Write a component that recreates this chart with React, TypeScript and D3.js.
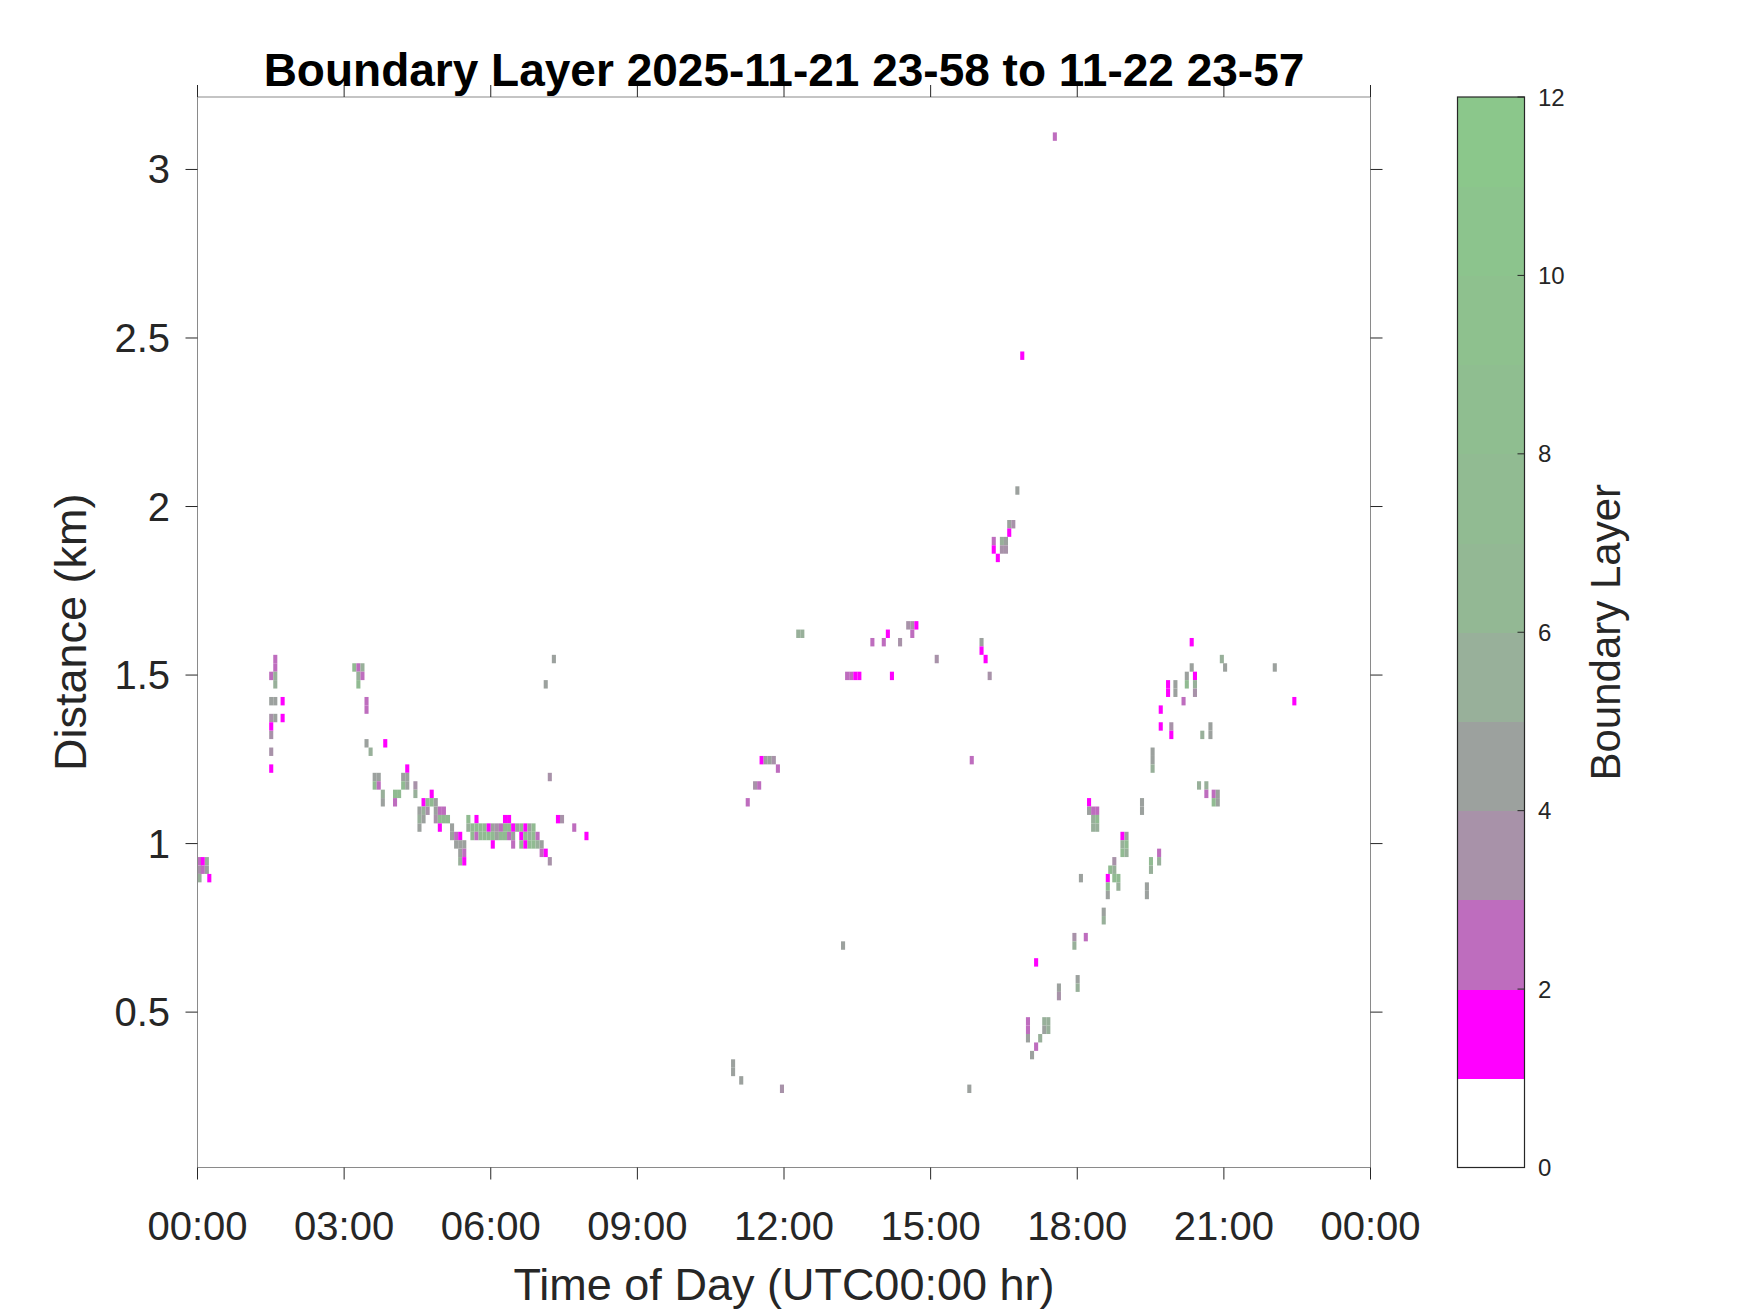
import React from 'react';
import * as d3 from 'd3';

const WIDTH = 1750;
const HEIGHT = 1313;
const plot = {left: 197.5, right: 1370.5, top: 97, bottom: 1167.5};
const cbar = {left: 1457.5, right: 1524.5};

const TITLE = 'Boundary Layer 2025-11-21 23-58 to 11-22 23-57';
const X_LABEL = 'Time of Day (UTC00:00 hr)';
const Y_LABEL = 'Distance (km)';
const CBAR_LABEL = 'Boundary Layer';

// axes
const timeTicks = [0, 3, 6, 9, 12, 15, 18, 21, 24];
const timeTickLabels = ['00:00', '03:00', '06:00', '09:00', '12:00', '15:00', '18:00', '21:00', '00:00'];
const distTicks = [0.5, 1, 1.5, 2, 2.5, 3];
const distExtent = [0.039, 3.215];
const levelTicks = [0, 2, 4, 6, 8, 10, 12];
const levelColors = [
    '#ffffff', '#ff00ff', '#be6dbe', '#a892a9', '#9ca19e', '#98b09a',
    '#93b894', '#91bb92', '#8fbe90', '#8ec18e', '#8cc48d', '#8bc78b'
];

// profiles every 5 min, range gates of 25 m
const STEP_MIN = 5;
const GATE_KM = 0.025;
const GATE0_KM = 0.060;

// [minute of day, gate, value]
const nightCells = [
    [0, 35, 2], [0, 34, 3], [0, 33, 5], [4, 35, 1], [4, 34, 2], [9, 35, 5], [9, 34, 4], [12, 33, 1],
    [93, 59, 2], [93, 58, 2], [88, 57, 2], [93, 57, 5], [93, 56, 5], [88, 54, 4], [93, 54, 4], [102, 54, 1],
    [88, 52, 3], [93, 52, 4], [102, 52, 1], [88, 51, 1], [88, 50, 3], [88, 48, 3], [88, 46, 1]
];

const morningCells = [
    [190, 58, 7], [195, 58, 2], [200, 58, 5], [195, 57, 5], [200, 57, 2], [195, 56, 7],
    [205, 54, 2], [205, 53, 2], [205, 49, 4], [210, 48, 5], [228, 49, 1], [255, 46, 1],
    [215, 45, 4], [220, 45, 4], [250, 45, 4], [255, 45, 4],
    [215, 44, 7], [220, 44, 2], [250, 44, 7], [255, 44, 4], [265, 44, 3],
    [225, 43, 5], [240, 43, 7], [245, 43, 7], [265, 43, 5], [285, 43, 1],
    [225, 42, 4], [240, 42, 2], [275, 42, 1], [280, 42, 7], [285, 42, 7], [290, 42, 4],
    [270, 41, 4], [275, 41, 5], [280, 41, 3], [290, 41, 4], [295, 41, 2], [300, 41, 2],
    [270, 40, 5], [275, 40, 4], [290, 40, 3], [295, 40, 7], [300, 40, 7], [305, 40, 7],
    [330, 40, 7], [340, 40, 1], [375, 40, 1], [380, 40, 1], [440, 40, 1], [445, 40, 3],
    [270, 39, 4], [295, 39, 1], [310, 39, 4], [330, 39, 5], [335, 39, 7], [340, 39, 7], [345, 39, 7],
    [350, 39, 7], [355, 39, 1], [360, 39, 4], [365, 39, 3], [370, 39, 2], [375, 39, 7], [380, 39, 7],
    [385, 39, 1], [390, 39, 4], [395, 39, 7], [400, 39, 1], [405, 39, 4], [410, 39, 7], [460, 39, 2],
    [310, 38, 4], [315, 38, 2], [320, 38, 1], [335, 38, 7], [340, 38, 2], [345, 38, 7], [350, 38, 7],
    [355, 38, 7], [360, 38, 7], [365, 38, 4], [370, 38, 7], [375, 38, 7], [380, 38, 2], [385, 38, 4],
    [395, 38, 1], [400, 38, 7], [405, 38, 5], [410, 38, 7], [415, 38, 2], [475, 38, 1],
    [315, 37, 4], [320, 37, 4], [325, 37, 4], [360, 37, 1], [385, 37, 2], [395, 37, 7], [400, 37, 1],
    [405, 37, 7], [410, 37, 7], [415, 37, 5], [420, 37, 4],
    [320, 36, 4], [325, 36, 2], [420, 36, 2], [425, 36, 1],
    [320, 35, 5], [325, 35, 1], [430, 35, 3],
    [425, 56, 4], [435, 59, 4], [430, 45, 3]
];

const middayCells = [
    [655, 11, 4], [655, 10, 4], [665, 9, 4], [715, 8, 3], [790, 25, 4],
    [673, 42, 2], [682, 44, 3], [687, 44, 2], [690, 47, 1], [695, 47, 4], [700, 47, 4], [705, 47, 3], [710, 46, 2],
    [735, 62, 5], [740, 62, 5],
    [795, 57, 2], [800, 57, 2], [805, 57, 1], [810, 57, 1], [850, 57, 1],
    [826, 61, 2], [840, 61, 2], [860, 61, 3], [845, 62, 1], [870, 63, 3], [875, 63, 3], [880, 63, 1], [875, 62, 2],
    [905, 59, 3], [945, 8, 4], [948, 47, 2],
    [960, 61, 4], [960, 60, 1], [965, 59, 1], [970, 57, 3]
];

const afternoonCells = [
    [1004, 79, 4], [994, 75, 4], [999, 75, 3], [994, 74, 1], [975, 73, 2], [985, 73, 5], [990, 73, 4],
    [985, 72, 3], [990, 72, 3], [975, 72, 1], [980, 71, 1], [1010, 95, 1], [1050, 121, 2]
];

const eveningCells = [
    [1092, 42, 1], [1092, 41, 4], [1097, 41, 2], [1102, 41, 2], [1097, 40, 5], [1102, 40, 7], [1097, 39, 5], [1102, 39, 5],
    [1133, 38, 1], [1138, 38, 4], [1133, 37, 5], [1138, 37, 7], [1133, 36, 7], [1138, 36, 5],
    [1123, 35, 3], [1118, 34, 7], [1123, 34, 5], [1123, 33, 7], [1128, 33, 7], [1128, 32, 5],
    [1115, 33, 1], [1115, 32, 7], [1115, 31, 4], [1110, 29, 4], [1110, 28, 5], [1082, 33, 4],
    [1074, 26, 3], [1074, 25, 5], [1088, 26, 2], [1027, 23, 1], [1078, 21, 4], [1078, 20, 5],
    [1055, 20, 4], [1055, 19, 3],
    [1017, 16, 2], [1017, 15, 2], [1017, 14, 4], [1037, 16, 5], [1042, 16, 5], [1037, 15, 4], [1042, 15, 5],
    [1032, 14, 5], [1027, 13, 2], [1022, 12, 4],
    [1218, 61, 1], [1255, 59, 5], [1259, 58, 4], [1320, 58, 4], [1218, 58, 4], [1212, 57, 4], [1212, 56, 7],
    [1222, 57, 1], [1222, 56, 5], [1222, 55, 3], [1189, 56, 1], [1189, 55, 1], [1198, 56, 4], [1198, 55, 4],
    [1208, 54, 2], [1180, 53, 1], [1180, 51, 1], [1193, 51, 3], [1193, 50, 1], [1231, 50, 5], [1241, 51, 4],
    [1241, 50, 4], [1170, 48, 4], [1170, 47, 4], [1170, 46, 5], [1344, 54, 1], [1227, 44, 5], [1236, 44, 5],
    [1236, 43, 2], [1245, 43, 2], [1250, 43, 4], [1250, 42, 4], [1245, 42, 7], [1157, 42, 4], [1157, 41, 4],
    [1178, 36, 2], [1178, 35, 5], [1168, 35, 7], [1168, 34, 5], [1163, 32, 4], [1163, 31, 4]
];

const FONT = '"Liberation Sans", Arial, Helvetica, sans-serif';
const INK = '#262626';

const App = () => {
    const x = d3.scaleLinear().domain([0, 24]).range([plot.left, plot.right]);
    const y = d3.scaleLinear().domain(distExtent).range([plot.bottom, plot.top]);
    const c = d3.scaleLinear().domain([0, 12]).range([plot.bottom, plot.top]);

    const cells = [...nightCells, ...morningCells, ...middayCells, ...afternoonCells, ...eveningCells];
    const tick = 12;

    return (
        <svg width={WIDTH} height={HEIGHT} style={{position: 'absolute', left: 0, top: 0, background: '#fff'}}
             fontFamily={FONT}>
            <rect x={0} y={0} width={WIDTH} height={HEIGHT} fill="#fff"/>

            {/* heatmap cells */}
            <g>
                {cells.map(([m, g, v], i) => {
                    const x0 = x(m / 60);
                    const x1 = Math.min(x((m + STEP_MIN) / 60), plot.right);
                    const yTop = y(GATE0_KM + (g + 1) * GATE_KM);
                    const yBot = y(GATE0_KM + g * GATE_KM);
                    return <rect key={i} x={x0} y={yTop} width={x1 - x0} height={yBot - yTop}
                                 fill={levelColors[Math.min(11, Math.floor(v))]}/>;
                })}
            </g>

            {/* axes box */}
            <rect x={plot.left} y={plot.top} width={plot.right - plot.left} height={plot.bottom - plot.top}
                  fill="none" stroke="#8a8a8a" strokeWidth={1}/>

            {/* x ticks, top and bottom, pointing out */}
            {timeTicks.map((t, i) => (
                <g key={'xt' + i}>
                    <line x1={x(t)} x2={x(t)} y1={plot.bottom} y2={plot.bottom + tick} stroke={INK}/>
                    <line x1={x(t)} x2={x(t)} y1={plot.top} y2={plot.top - tick} stroke={INK}/>
                    <text x={x(t)} y={1240} fontSize={40} fill={INK} textAnchor="middle">{timeTickLabels[i]}</text>
                </g>
            ))}

            {/* y ticks, left and right, pointing out */}
            {distTicks.map((d, i) => (
                <g key={'yt' + i}>
                    <line x1={plot.left} x2={plot.left - tick} y1={y(d)} y2={y(d)} stroke={INK}/>
                    <line x1={plot.right} x2={plot.right + tick} y1={y(d)} y2={y(d)} stroke={INK}/>
                    <text x={170} y={y(d) + 14} fontSize={40} fill={INK} textAnchor="end">{d}</text>
                </g>
            ))}

            <text x={(plot.left + plot.right) / 2} y={86} fontSize={46} fontWeight="bold" fill="#000"
                  textAnchor="middle">{TITLE}</text>
            <text x={(plot.left + plot.right) / 2} y={1300} fontSize={45} fill={INK}
                  textAnchor="middle">{X_LABEL}</text>
            <text transform={`translate(86, ${(plot.top + plot.bottom) / 2}) rotate(-90)`} fontSize={45} fill={INK}
                  textAnchor="middle">{Y_LABEL}</text>

            {/* colorbar */}
            <g shapeRendering="crispEdges">
                {levelColors.map((col, i) => (
                    <rect key={'cb' + i} x={cbar.left} y={c(i + 1)} width={cbar.right - cbar.left}
                          height={c(i) - c(i + 1) + 0.6} fill={col}/>
                ))}
            </g>
            <rect x={cbar.left} y={plot.top} width={cbar.right - cbar.left} height={plot.bottom - plot.top}
                  fill="none" stroke={INK} strokeWidth={1.2}/>
            {levelTicks.map((v, i) => (
                <g key={'ct' + i}>
                    <line x1={cbar.right} x2={cbar.right - 7} y1={c(v)} y2={c(v)} stroke={INK}/>
                    <text x={1538} y={c(v) + 8.5} fontSize={24} fill={INK}>{v}</text>
                </g>
            ))}
            <text transform={`translate(1620, ${(plot.top + plot.bottom) / 2}) rotate(-90)`} fontSize={42}
                  fill={INK} textAnchor="middle">{CBAR_LABEL}</text>
        </svg>
    );
};

export default App;
